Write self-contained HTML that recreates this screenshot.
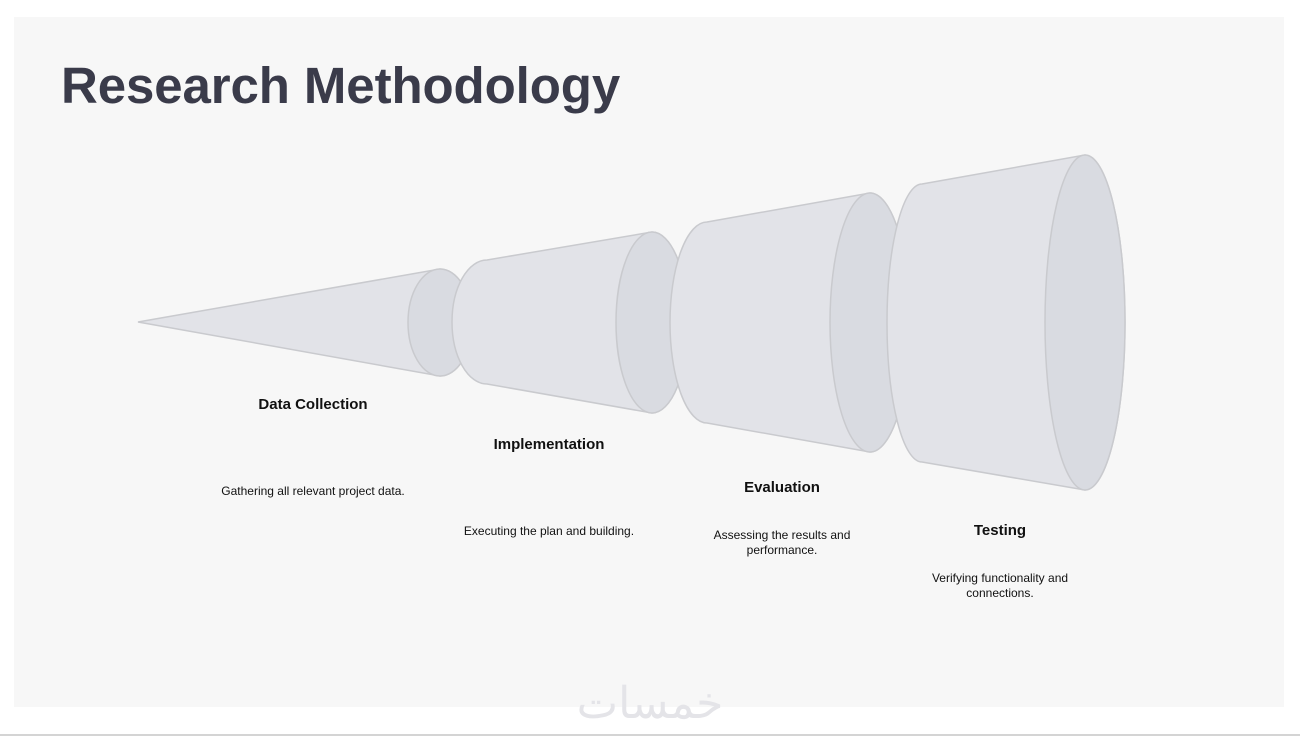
<!DOCTYPE html>
<html><head><meta charset="utf-8"><style>
body{margin:0;width:1300px;height:736px;background:#fff;overflow:hidden;font-family:"Liberation Sans",Arial,sans-serif;position:relative}
.panel{position:absolute;left:14px;top:17px;width:1270px;height:690px;background:#f7f7f7}
h1{position:absolute;left:61px;top:56px;margin:0;font-size:51px;font-weight:bold;color:#3a3b4a;letter-spacing:-0.1px}
.t{position:absolute;font-weight:bold;font-size:15px;color:#111;text-align:center;width:240px}
.d{position:absolute;font-size:12px;color:#111;text-align:center;width:200px;line-height:15px}
.line{position:absolute;left:0;top:734px;width:1300px;height:2px;background:#d4d4d4}
</style></head><body>
<div class="panel"></div>
<h1>Research Methodology</h1>
<svg width="1300" height="736" style="position:absolute;left:0;top:0">
<g stroke="#c9cace" stroke-width="1.5">
<path d="M138,322 L440,269 A32,53.5 0 0 1 440,376 Z" fill="#e2e3e8"/>
<ellipse cx="440" cy="322.5" rx="32" ry="53.5" fill="#d9dbe1"/>
<path d="M487,260 L652,232 A36,90.5 0 0 1 652,413 L487,384 A35,62 0 0 1 487,260 Z" fill="#e2e3e8"/>
<ellipse cx="652" cy="322.5" rx="36" ry="90.5" fill="#d9dbe1"/>
<path d="M707,222 L870,193 A40,129.5 0 0 1 870,452 L707,423 A37,100.5 0 0 1 707,222 Z" fill="#e2e3e8"/>
<ellipse cx="870" cy="322.5" rx="40" ry="129.5" fill="#d9dbe1"/>
<path d="M922,184 L1085,155 A40,167.5 0 0 1 1085,490 L922,462 A35,139 0 0 1 922,184 Z" fill="#e2e3e8"/>
<ellipse cx="1085" cy="322.5" rx="40" ry="167.5" fill="#d9dbe1"/>
</g>
<text x="650" y="718" text-anchor="middle" font-family="Liberation Sans, sans-serif" font-size="44" fill="#e4e4e8">خمسات</text>
</svg>
<div class="t" style="left:193px;top:396px">Data Collection</div>
<div class="d" style="left:213px;top:484px">Gathering all relevant project data.</div>
<div class="t" style="left:429px;top:436px">Implementation</div>
<div class="d" style="left:449px;top:524px">Executing the plan and building.</div>
<div class="t" style="left:662px;top:479px">Evaluation</div>
<div class="d" style="left:682px;top:528px">Assessing the results and performance.</div>
<div class="t" style="left:880px;top:522px">Testing</div>
<div class="d" style="left:900px;top:571px">Verifying functionality and connections.</div>
<div class="line"></div>
</body></html>
